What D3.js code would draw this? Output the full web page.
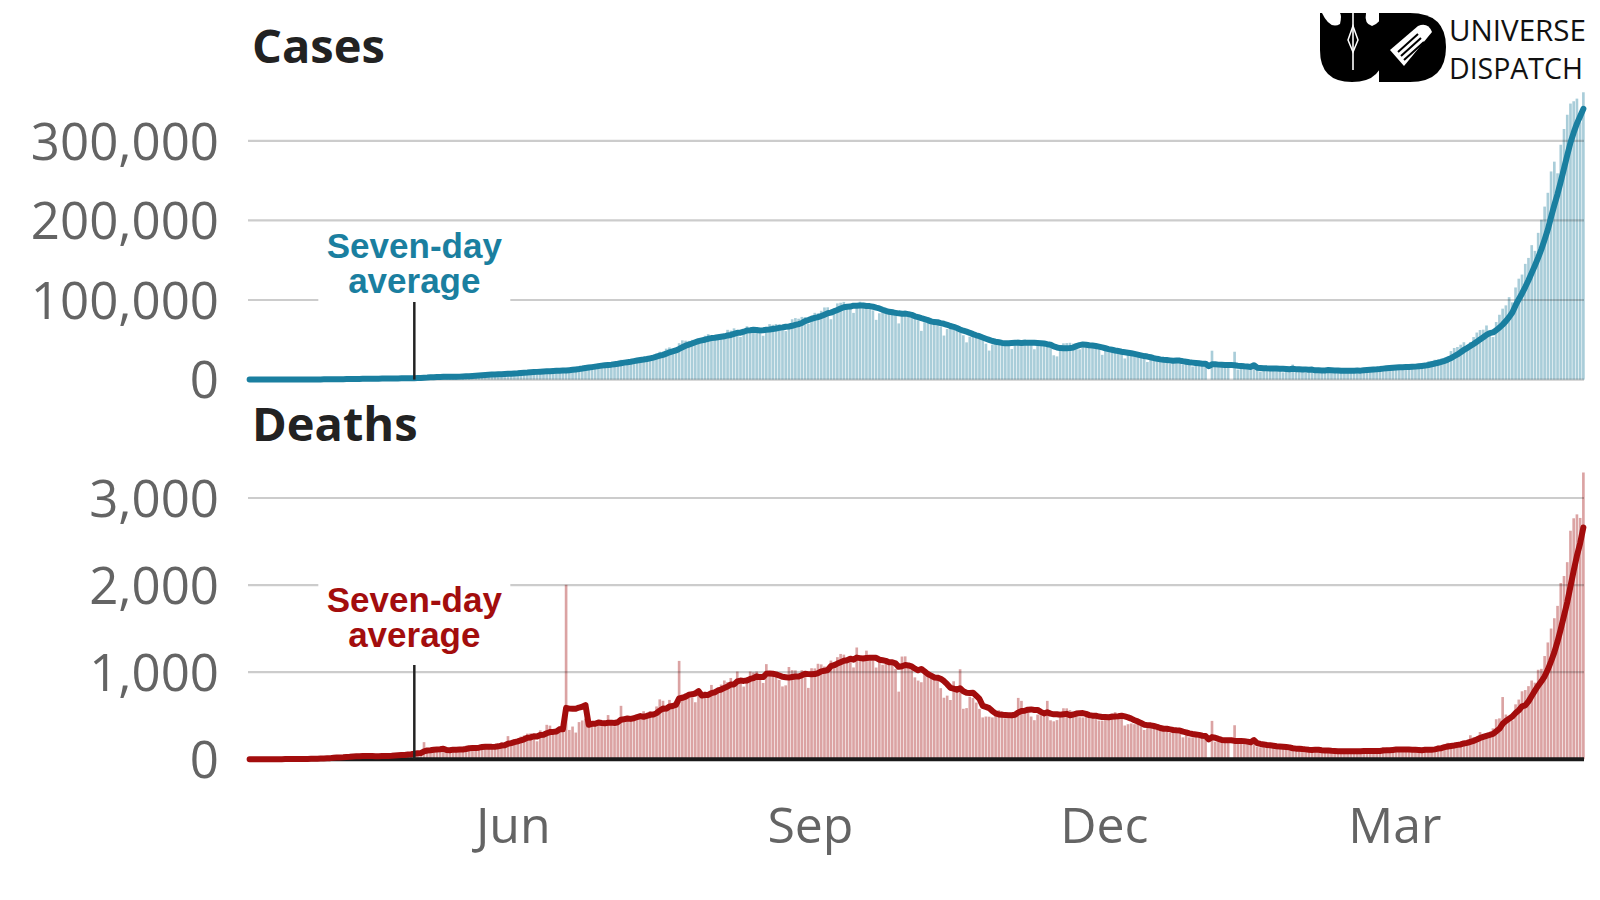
<!DOCTYPE html>
<html><head><meta charset="utf-8">
<script src="https://cdn.jsdelivr.net/npm/d3@7"></script>
<style>body{margin:0;background:#fff} svg{display:block}</style>
</head><body><svg id="chart" width="1600" height="900"></svg>
<script>
// ---------- DATA ----------
const startDate = new Date(2020, 2, 11); // first day shown: 11 Mar 2020, last: 28 Apr 2021

// daily new cases
const cases = [
  // Mar 2020 (11-31)
  12,13,9,20,23,27,15,28,22,50, 80,64,107,70,80,88,150,150,110,230, 146,
  // Apr
  601,545,478,579,526,489,573,565,813,871, 854,758,1243,1031,886,1061,922,1371,1580,1239, 1537,1292,1667,1408,1835,1607,1561,1873,1738,1801,
  // May
  2396,2564,2952,3656,2971,3602,3344,3339,3175,4311, 3592,3562,3726,3991,3808,4794,5050,4630,6147,5553, 6198,6568,6629,7113,6414,6535,7246,7254,8138,7964, 8789,
  // Jun
  8392,8171,9633,9851,9887,10438,9971,9983,9987,11458, 10956,11458,11929,11502,10667,10974,12881,13586,14516,15413, 14821,14933,15968,16922,17296,18552,19906,19459,18522,18653,
  // Jul
  19148,20903,22771,24850,24248,22252,22752,24879,26506,27114, 28637,28701,28498,29429,32695,34956,34884,38902,40425,37148, 37724,45720,49310,48916,48661,49931,47704,48513,52123,55078, 57118,
  // Aug
  54735,52972,52050,52509,56282,62538,61537,64399,62064,53601, 60963,66999,64553,65002,63490,57981,55079,64531,69652,68898, 69878,69239,61408,60975,67151,75760,77266,76472,78761,78512, 69921,
  // Sep
  78357,83883,83341,86432,90632,90802,75809,89706,95735,96551, 97570,94372,92071,83809,90123,97894,96424,93337,92605,86961, 75083,83347,86508,86052,85362,88600,82170,70589,80472,86821,
  // Oct
  81484,79476,75829,74442,61267,72049,78524,70496,73272,74383, 66732,55342,63509,67708,63371,62212,61871,55722,46790,54044, 55839,53370,54366,50129,45149,36470,43893,49881,48648,48268, 46963,
  // Nov
  45231,38310,46254,50210,47638,50357,45674,45903,38073,44281, 47905,44879,44878,41100,30548,29164,38617,45576,45882,46232, 45209,44059,37975,44376,43082,41322,43082,41810,38772,31118,
  // Dec
  36604,35551,35668,36594,36652,32981,26567,32080,31522,29398, 30006,30254,27071,22065,26382,24010,22890,25152,26624,24337, 19556,23950,24712,23067,18732,22272,20021,16432,20549,21822, 20035,
  // Jan 2021
  19079,0,36300,16375,18088,20346,18139,18222,0,35000, 12584,15968,16946,15590,15158,15144,13788,10064,13823,15223, 14545,14256,14849,13203,9102,12689,11666,18855,11666,13083, 11629,
  // Feb
  8635,11039,12899,12408,12059,11713,12059,11831,9110,11067, 12923,9309,12143,12194,11649,9121,11610,12881,13193,13993, 14264,14199,10584,13742,16738,16577,16488,16752,
  // Mar
  15510,12286,14989,17407,16838,18327,18711,18599,15388,17921, 22854,23285,24882,25320,26291,24492,28903,35871,39726,40953, 43846,46951,40715,47262,53476,59118,62258,62714,68020,56211, 53480,
  // Apr (1-28)
  72330,81466,89129,93249,103558,96982,115736,126789,131968,145384, 152879,168912,161736,184372,200739,217353,234692,261500,273810,259170, 295041,314835,332730,346786,349691,352991,323144,360960
];

// daily deaths
const deaths = [
  // Mar 2020 (11-31)
  0,1,0,0,1,0,1,0,1,1, 1,3,1,2,3,6,2,5,4,7, 12,
  // Apr
  6,16,12,20,13,31,34,20,20,40, 37,42,36,35,38,37,26,36,31,37, 50,45,38,37,60,49,60,57,72,70,
  // May
  75,93,67,196,127,92,104,96,116,111, 85,122,134,103,101,120,154,148,134,140, 132,148,142,148,147,146,170,194,175,265, 193,
  // Jun
  230,204,260,273,294,297,287,206,331,279, 395,386,311,325,380,325,2003,336,375,306, 426,445,465,418,407,384,410,380,418,507,
  // Jul
  434,379,442,613,425,467,482,487,475,519, 551,500,553,500,606,687,671,543,681,587, 587,1129,740,758,705,708,654,779,775,779, 764,
  // Aug
  853,771,803,857,904,886,933,861,1007,871, 834,942,1007,996,1007,944,876,1092,977,983, 945,912,836,848,1059,1023,1021,948,1022,948, 819,
  // Sep
  1045,1043,1096,1089,1065,1016,1133,1115,1172,1209, 1201,1114,1136,1054,1283,1132,1174,1247,1133,1130, 1053,1130,1085,1129,1141,1124,1039,776,1179,1181,
  // Oct
  1095,1069,940,903,884,986,971,963,926,918, 816,706,730,680,895,837,1033,579,587,717, 702,650,578,480,490,488,480,517,563,551, 470,
  // Nov
  470,490,514,704,670,577,559,490,448,512, 550,547,670,447,435,449,474,585,584,564, 501,511,482,480,524,485,518,496,443,443,
  // Dec
  482,512,526,540,511,482,387,402,411,402, 442,391,336,355,387,355,338,347,333,333, 301,336,333,327,251,279,251,251,299,299, 256,
  // Jan 2021
  232,0,440,201,202,217,234,228,0,390, 201,202,198,191,181,175,145,137,162,151, 163,152,131,127,117,137,123,94,120,127, 94,
  // Feb
  94,107,107,120,107,95,78,81,84,94, 104,94,103,78,90,78,100,104,101,101, 90,78,88,104,138,113,113,113,
  // Mar
  106,97,98,133,113,108,100,97,77,133, 126,117,140,161,131,158,188,172,154,188, 197,212,199,275,251,257,312,291,291,271, 354,
  // Apr (1-28)
  459,469,714,513,478,446,630,685,780,794, 839,904,879,1027,1038,1185,1341,1501,1619,1761, 2023,2104,2263,2624,2767,2812,2771,3293
];

const casesTicks = [0, 100000, 200000, 300000];
const deathsTicks = [0, 1000, 2000, 3000];
const monthTicks = [new Date(2020, 5, 1), new Date(2020, 8, 1), new Date(2020, 11, 1), new Date(2021, 2, 1)];
const monthLabels = ["Jun", "Sep", "Dec", "Mar"];
const panelTitles = ["Cases", "Deaths"];
const annotationLines = ["Seven-day", "average"];
const annotationDate = new Date(2020, 4, 1);
const logoLines = ["UNIVERSE", "DISPATCH"];

// ---------- CHART ----------
const svg = d3.select("#chart");
const dates = cases.map((_, i) => d3.timeDay.offset(startDate, i));
const endDate = d3.timeDay.offset(startDate, cases.length);

const x = d3.scaleTime().domain([startDate, endDate]).range([248, 1585]);
const dayW = x(d3.timeDay.offset(startDate, 1)) - x(startDate);
const xc = d => x(d) + dayW / 2;

function rolling(vals) {
  return vals.map((v, i) => d3.mean(vals.slice(Math.max(0, i - 6), i + 1)));
}

const tickFont = "'Open Sans', 'Noto Sans', sans-serif";

function panel(cfg) {
  const g = svg.append("g");
  const y = d3.scaleLinear().domain(cfg.domain).range(cfg.range);

  // title
  g.append("text").attr("x", 252).attr("y", cfg.titleY)
    .attr("font-family", tickFont).attr("font-weight", 700)
    .attr("font-size", 47).attr("fill", "#222").text(cfg.title);

  // y axis labels
  const ax = d3.axisLeft(y).tickValues(cfg.ticks).tickSize(0).tickPadding(0).tickFormat(d3.format(","));
  const axg = g.append("g").attr("transform", "translate(219,0)").call(ax);
  axg.select(".domain").remove();
  axg.selectAll("text").attr("font-family", tickFont).attr("font-size", 51)
    .attr("fill", "#646464").attr("dy", "0.36em").attr("x", 0);

  // bars
  g.append("g").selectAll("rect").data(cfg.values).join("rect")
    .attr("x", (d, i) => x(dates[i]) + dayW * 0.09)
    .attr("width", dayW * 0.82)
    .attr("y", d => y(d))
    .attr("height", d => y(0) - y(d))
    .attr("fill", cfg.barColor);

  // gridlines
  g.append("g").selectAll("line").data(cfg.ticks.filter(t => cfg.blackBase ? t > 0 : true)).join("line")
    .attr("x1", 248).attr("x2", 1584)
    .attr("y1", d => y(d)).attr("y2", d => y(d))
    .attr("stroke", "#000").attr("stroke-opacity", 0.2).attr("stroke-width", 2.2);

  if (cfg.blackBase) {
    g.append("line").attr("x1", 248).attr("x2", 1584).attr("y1", y(0)).attr("y2", y(0))
      .attr("stroke", "#1a1a1a").attr("stroke-width", 4);
  }

  // seven-day average line
  const avg = rolling(cfg.values);
  const line = d3.line().x((d, i) => xc(dates[i])).y(d => y(d));
  g.append("path").datum(avg).attr("d", line).attr("fill", "none")
    .attr("stroke", cfg.lineColor).attr("stroke-width", 6)
    .attr("stroke-linejoin", "round").attr("stroke-linecap", "round");

  // annotation
  const ax0 = xc(annotationDate);
  g.append("rect").attr("x", ax0 - 96).attr("width", 192)
    .attr("y", cfg.boxTop).attr("height", cfg.boxBottom - cfg.boxTop).attr("fill", "#fff");
  g.append("line").attr("x1", ax0).attr("x2", ax0).attr("y1", cfg.leaderTop).attr("y2", y(0))
    .attr("stroke", "#222").attr("stroke-width", 2.5);
  g.append("g").selectAll("text").data(annotationLines).join("text")
    .attr("x", ax0).attr("y", (d, i) => cfg.annY + i * 34.5)
    .attr("text-anchor", "middle")
    .attr("font-family", "'Liberation Sans', Arial, sans-serif").attr("font-weight", 700)
    .attr("font-size", 35).attr("fill", cfg.lineColor).text(d => d);
}

panel({
  title: panelTitles[0], titleY: 63, values: cases, ticks: casesTicks,
  domain: [0, 300000], range: [379.6, 140.8],
  barColor: "#a9cdd9", lineColor: "#1a7fa0", blackBase: false,
  boxTop: 226, boxBottom: 303, leaderTop: 302, annY: 258
});
panel({
  title: panelTitles[1], titleY: 441, values: deaths, ticks: deathsTicks,
  domain: [0, 3000], range: [759.2, 498],
  barColor: "#dba3a3", lineColor: "#a30d0d", blackBase: true,
  boxTop: 578, boxBottom: 662, leaderTop: 665, annY: 612
});

// x axis month labels
const xAx = d3.axisBottom(x).tickValues(monthTicks).tickSize(0).tickPadding(0)
  .tickFormat((d, i) => monthLabels[i]);
const xg = svg.append("g").attr("transform", "translate(0,843)").call(xAx);
xg.select(".domain").remove();
xg.selectAll("text").attr("font-family", tickFont).attr("font-size", 50)
  .attr("fill", "#646464").attr("dy", null).attr("y", 0);

// ---------- LOGO ----------
const logo = svg.append("g");
logo.append("path").attr("d", "M1320,13 H1384 V50 Q1384,82 1352,82 Q1320,82 1320,50 Z").attr("fill", "#000");
logo.append("path").attr("d", "M1322,13 Q1330,30 1340,24 Q1342,16 1340,13 Z").attr("fill", "#fff");
logo.append("path").attr("d", "M1366,13 Q1364,24 1372,26 Q1382,22 1382,13 Z").attr("fill", "#fff");
logo.append("line").attr("x1", 1353).attr("x2", 1353).attr("y1", 13).attr("y2", 70).attr("stroke", "#fff").attr("stroke-width", 1.6);
logo.append("path").attr("d", "M1353,26 L1358,40 L1353,52 L1348,40 Z").attr("fill", "none").attr("stroke", "#fff").attr("stroke-width", 1.5);
logo.append("path").attr("d", "M1379,13 H1410 Q1446,13 1446,47 Q1446,82 1410,82 H1379 Z").attr("fill", "#000");
logo.append("path").attr("d", "M1390,50 L1418,26 Q1428,22 1432,32 L1404,66 Z").attr("fill", "#fff");
logo.append("path").attr("d", "M1398,52 L1418,34 M1401,56 L1421,38 M1404,60 L1424,42").attr("stroke", "#000").attr("stroke-width", 2);
logo.append("g").selectAll("text").data(logoLines).join("text")
  .attr("x", 1449).attr("y", (d, i) => 41 + i * 38)
  .attr("font-family", tickFont).attr("font-size", 30)
  .attr("textLength", (d, i) => i === 0 ? 137 : 134).attr("lengthAdjust", "spacingAndGlyphs")
  .attr("fill", "#111").text(d => d);
</script>
</body></html>
